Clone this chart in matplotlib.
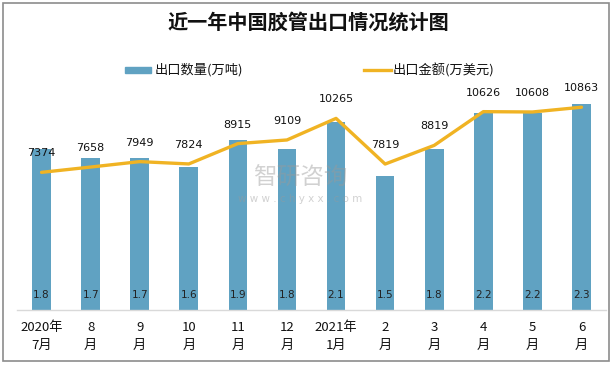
import matplotlib
matplotlib.use("Agg")
import matplotlib.pyplot as plt
from matplotlib.patches import Rectangle
import numpy as np

plt.rcParams['font.family'] = ['Noto Sans CJK SC', 'DejaVu Sans']

categories = ["2020年\n7月", "8\n月", "9\n月", "10\n月", "11\n月", "12\n月",
              "2021年\n1月", "2\n月", "3\n月", "4\n月", "5\n月", "6\n月"]
volume = [1.8, 1.7, 1.7, 1.6, 1.9, 1.8, 2.1, 1.5, 1.8, 2.2, 2.2, 2.3]
amount = [7374, 7658, 7949, 7824, 8915, 9109, 10265, 7819, 8819, 10626, 10608, 10863]

bar_color = '#60a2c2'
line_color = '#f0b323'

W, H = 616, 366
fig = plt.figure(figsize=(W / 100, H / 100), dpi=100)

# outer border
fig.patches.append(Rectangle((3 / W, 1 - 361 / H), 606 / W, 358 / H,
                             transform=fig.transFigure, fill=False,
                             edgecolor='#8c8c8c', linewidth=1.2))

ax = fig.add_axes([17 / W, 1 - 310 / H, 589 / W, 224 / H])
ax2 = ax.twinx()

x = np.arange(len(categories))
ax.bar(x, volume, width=0.38, color=bar_color, zorder=2)
ax.set_ylim(0, 2.5)
ax.set_xlim(-0.5, len(categories) - 0.5)
for xi, v in zip(x, volume):
    ax.text(xi, 0.17, f"{v}", ha='center', va='center', fontsize=7.5,
            family='DejaVu Sans', color='#222222', zorder=3)

ax2.plot(x, amount, color=line_color, linewidth=2.4, solid_capstyle='round', zorder=4)
ax2.set_ylim(0, 12000)
for xi, v in zip(x, amount):
    ax2.annotate(f"{v}", (xi, v), xytext=(0, 10), textcoords='offset points',
                 ha='center', va='bottom', fontsize=8, family='DejaVu Sans',
                 color='#111111')

for a in (ax, ax2):
    for s in a.spines.values():
        s.set_visible(False)
    a.set_yticks([])
ax.spines['bottom'].set_visible(True)
ax.spines['bottom'].set_color('#d9d9d9')
ax.spines['bottom'].set_linewidth(1)
ax.set_xticks(x)
ax.set_xticklabels(categories, fontsize=9.5, linespacing=1.45, color='#111111')
ax.tick_params(axis='x', length=0, pad=8)
ax2.tick_params(axis='x', length=0, labelbottom=False, labeltop=False)

ax.set_zorder(ax2.get_zorder() - 1)
ax.patch.set_visible(False)

# watermark
fig.text(300 / W, 1 - 178 / H, "智研咨询", fontsize=17, color='#9a9a9a', alpha=0.45,
         ha='center', va='center', zorder=10)
fig.text(300 / W, 1 - 199 / H, "w w w . c h y x x . c o m", fontsize=7.5,
         color='#9a9a9a', alpha=0.45, ha='center', va='center', family='DejaVu Sans',
         zorder=10)

# title
fig.text(308 / W, 1 - 22 / H, "近一年中国胶管出口情况统计图", fontsize=14.5,
         fontweight='bold', ha='center', va='center', color='#111111')

# legend
fig.patches.append(Rectangle((125 / W, 1 - 73 / H), 26 / W, 6 / H,
                             transform=fig.transFigure, color=bar_color))
fig.text(155 / W, 1 - 70 / H, "出口数量(万吨)", fontsize=9.5, ha='left', va='center',
         color='#111111')
fig.lines.append(plt.Line2D([364 / W, 391 / W], [1 - 70 / H, 1 - 70 / H],
                            transform=fig.transFigure, color=line_color, linewidth=2.4))
fig.text(393 / W, 1 - 70 / H, "出口金额(万美元)", fontsize=9.5, ha='left', va='center',
         color='#111111')

fig.savefig("out.png", dpi=100)
